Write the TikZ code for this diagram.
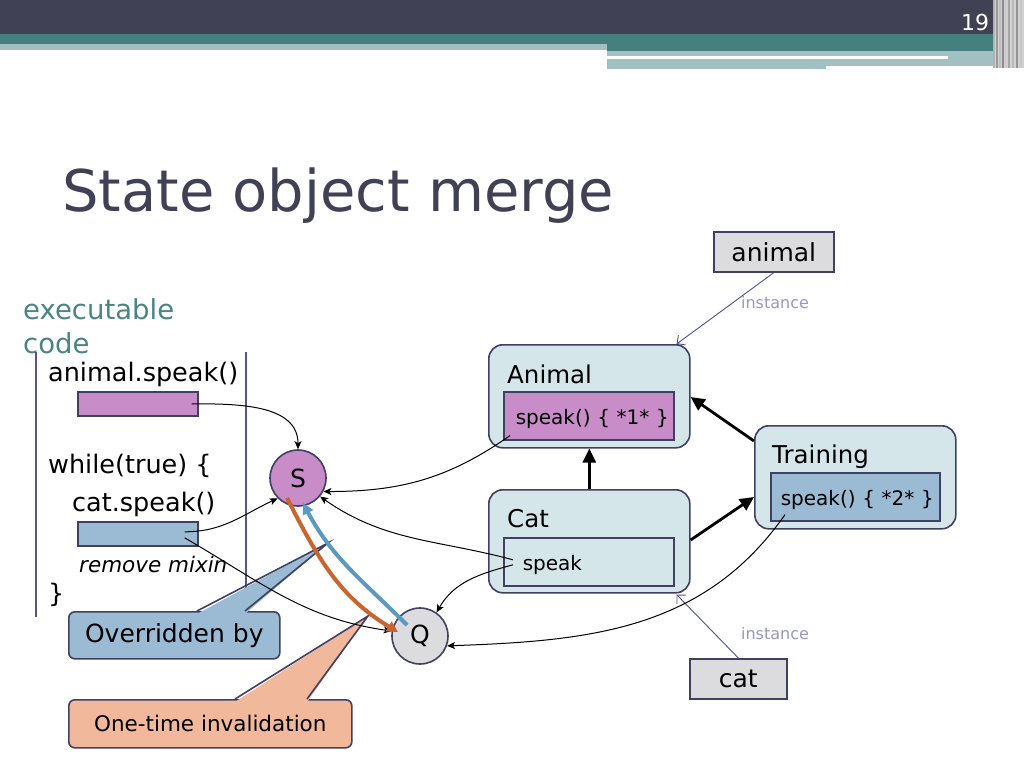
\documentclass[tikz,border=0pt]{standalone}
\usepackage{fontspec}
\setmainfont{DejaVu Sans}
\usetikzlibrary{arrows.meta}
\definecolor{hdr}{HTML}{414155}
\definecolor{tealc}{HTML}{44807E}
\definecolor{lteal}{HTML}{A2BFC2}
\definecolor{tealtext}{HTML}{4A8584}
\definecolor{bord}{HTML}{404062}
\definecolor{vline}{HTML}{55558A}
\definecolor{pinkc}{HTML}{C88CC8}
\definecolor{lblue}{HTML}{D5E6EA}
\definecolor{bluec}{HTML}{9BBBD4}
\definecolor{grayc}{HTML}{DCDCDE}
\definecolor{peach}{HTML}{F2B89C}
\definecolor{orng}{HTML}{C8642D}
\definecolor{barrow}{HTML}{5A9AC0}
\definecolor{insttext}{HTML}{9A98C0}
\definecolor{instline}{HTML}{50508A}
\newcommand{\lowtext}[1]{\raisebox{-3.5pt}[\height][\depth]{#1}}
\tikzset{
  code/.style={anchor=base west, inner sep=0pt, font=\fontsize{25.5}{30}\selectfont},
  ttl/.style={anchor=base west, inner sep=0pt, font=\fontsize{24.5}{28}\selectfont},
  obox/.style={draw=bord, fill=lblue, line width=1.6pt, rounded corners=14pt, anchor=north west, minimum width=201pt, minimum height=103pt, inner sep=0pt},
  ibox/.style={draw=bord, line width=1.6pt, anchor=north west, minimum height=48pt, inner sep=0pt, align=left, font=\fontsize{20}{23}\selectfont},
  vbox/.style={draw=bord, fill=grayc, line width=1.6pt, anchor=north west, minimum height=40pt, inner sep=0pt, font=\fontsize{25}{28}\selectfont},
  crect/.style={draw=bord, line width=1.6pt, anchor=north west, minimum width=120pt, minimum height=24pt, inner sep=0pt},
  circ/.style={circle, draw=bord, line width=1.6pt, minimum size=56pt, inner sep=0pt, font=\fontsize{25}{28}\selectfont},
  cbox/.style={draw=bord, line width=1.6pt, rounded corners=6pt, anchor=north west, inner sep=0pt},
  conn/.style={draw=black, line width=1pt, -{Stealth[length=8pt,width=7pt,inset=2pt]}},
  inh/.style={draw=black, line width=2.8pt, -{Triangle[length=14pt,width=13pt]}},
  inst/.style={draw=instline, line width=0.9pt, -{Straight Barb[length=6pt,width=12pt]}},
  insttxt/.style={text=insttext, inner sep=0pt, font=\fontsize{16}{18}\selectfont},
  thickc/.style={line width=4pt, -{Triangle[length=11pt,width=11pt]}},
}
\begin{document}
\begin{tikzpicture}[x=1pt,y=1pt]
\useasboundingbox (0,0) rectangle (1024,-768);
\fill[white] (0,0) rectangle (1024,-768);
% header
\fill[hdr] (0,0) rectangle (1024,-34);
\fill[tealc] (0,-34) rectangle (1005,-44);
\fill[lteal] (0,-44) rectangle (607,-50);
\fill[tealc] (607,-34) rectangle (1005,-51);
\fill[lteal] (607,-51) rectangle (1005,-56);
\fill[lteal] (948,-56) rectangle (1005,-66);
\fill[lteal] (607,-59) rectangle (826,-69);
\fill[lteal] (826,-59) rectangle (1005,-66);
\fill[gray!35] (993,0) rectangle (1024,-68);
\foreach \xx/\cc in {994/gray!60,997/gray!80,1000/gray!50,1003/gray!90,1006/gray!40,1009/gray!70,1013/gray!55,1017/gray!85,1021/gray!45}
  \draw[\cc, line width=1.3pt] (\xx,0) -- (\xx,-68);
\node[text=white, font=\fontsize{22}{24}\selectfont, inner sep=0pt] (pg) at (975,-22) {19};
% title
\node[anchor=base west, inner sep=0pt, font=\fontsize{57.5}{62}\selectfont, text=hdr] (title) at (62,-211) {State object merge};
% executable code
\node[anchor=base west, inner sep=0pt, text=tealtext, font=\fontsize{27.5}{30}\selectfont] (exe1) at (23,-319) {executable};
\node[anchor=base west, inner sep=0pt, text=tealtext, font=\fontsize{27.5}{30}\selectfont] (exe2) at (23,-353) {code};
\draw[vline, line width=2pt] (36,-352) -- (36,-617);
\draw[vline, line width=2pt] (246,-352) -- (246,-605);
\node[code] (l1) at (48,-381) {animal.speak()};
\node[crect, fill=pinkc] (pk) at (77,-391) {};
\node[code] (l2) at (48,-473) {while(true) \{};
\node[code] (l3) at (72,-511) {cat.speak()};
\node[crect, fill=bluec] (bl) at (77,-521) {};
\node[anchor=base west, inner sep=0pt, font=\fontsize{21.5}{24}\selectfont\itshape] (l4) at (79,-572) {remove mixin};
\node[code] (l5) at (48,-602) {\}};
% callouts
\node[cbox, fill=bluec, minimum width=211pt, minimum height=47pt, font=\fontsize{25}{28}\selectfont] (ov) at (68,-611) {Overridden by};
\fill[bluec] (197,-614) -- (328,-543) -- (245,-614) -- cycle;
\draw[bord, line width=1.6pt, line join=miter] (197,-611) -- (328,-543) -- (245,-611);
\node[cbox, fill=peach, minimum width=283pt, minimum height=48pt, font=\fontsize{21.5}{24}\selectfont] (oti) at (68,-699) {One-time invalidation};
\fill[peach] (235,-702) -- (368,-616) -- (307,-702) -- cycle;
\draw[bord, line width=1.6pt, line join=miter] (235,-699) -- (368,-616) -- (307,-699);
% circles
\node[circ, fill=pinkc] (S) at (298,-478) {S};
\node[circ, fill=grayc] (Q) at (420,-636) {Q};
% class boxes
\node[obox] (animal) at (488,-344) {};
\node[ttl] (animalT) at (507,-383) {Animal};
\node[ibox, fill=pinkc, text width=170pt] (animalS) at (503,-391) {\hspace*{12pt}\lowtext{speak() \{ *1* \}}};
\node[obox] (cat) at (488,-489) {};
\node[ttl] (catT) at (507,-527) {Cat};
\node[ibox, fill=lblue, text width=170pt] (catS) at (503,-537) {\hspace*{19pt}\lowtext{speak}};
\node[obox] (training) at (754,-425) {};
\node[ttl] (trainingT) at (772,-463) {Training};
\node[ibox, fill=bluec, text width=169pt] (trainS) at (770,-472) {\hspace*{10pt}\lowtext{speak() \{ *2* \}}};
% variables
\node[vbox, minimum width=120pt] (animalV) at (713,-231) {animal};
\node[vbox, minimum width=97pt] (catV) at (689,-658) {cat};
\node[insttxt] (inst1) at (775,-303) {instance};
\node[insttxt] (inst2) at (775,-634) {instance};
\draw[inst] (animalV.south) -- ([xshift=-14pt]animal.north east);
\draw[inst] (catV.north) -- ([xshift=-14pt,yshift=-1pt]cat.south east);
% inheritance
\draw[inh] (cat.north) -- (animal.south);
\draw[inh] ([yshift=-16pt]training.north west) -- ([yshift=-53pt]animal.north east);
\draw[inh] ([yshift=-51pt]cat.north east) -- ([yshift=-72pt]training.north west);
% thin connectors
\draw[conn] ([xshift=-7pt]pk.east) to[out=0,in=90] (S.north);
\draw[conn] ([xshift=-14pt,yshift=2pt]bl.east) to[out=0,in=205] (S.225);
\draw[conn] ([xshift=-14pt,yshift=-4pt]bl.east) to[out=-30,in=172] (Q.170);
\draw[conn] ([xshift=7pt,yshift=5pt]animalS.south west) to[out=215,in=0] (S.-28);
\draw[conn] ([xshift=10pt,yshift=2pt]catS.west) to[out=165,in=-35] (S.-40);
\draw[conn] ([xshift=10pt,yshift=-3pt]catS.west) to[out=195,in=60] (Q.55);
\draw[conn] ([xshift=15pt,yshift=7pt]trainS.south west) to[out=235,in=2] (Q.-20);
% state arrows
\draw[thickc, orng] ([shift={(-11,-20)}]S.center) to[out=-63,in=149] ([shift={(-22,4)}]Q.center);
\draw[thickc, barrow] ([shift={(-13,11)}]Q.center) to[out=135,in=-62] ([shift={(5,-25)}]S.center);
\end{tikzpicture}
\end{document}
